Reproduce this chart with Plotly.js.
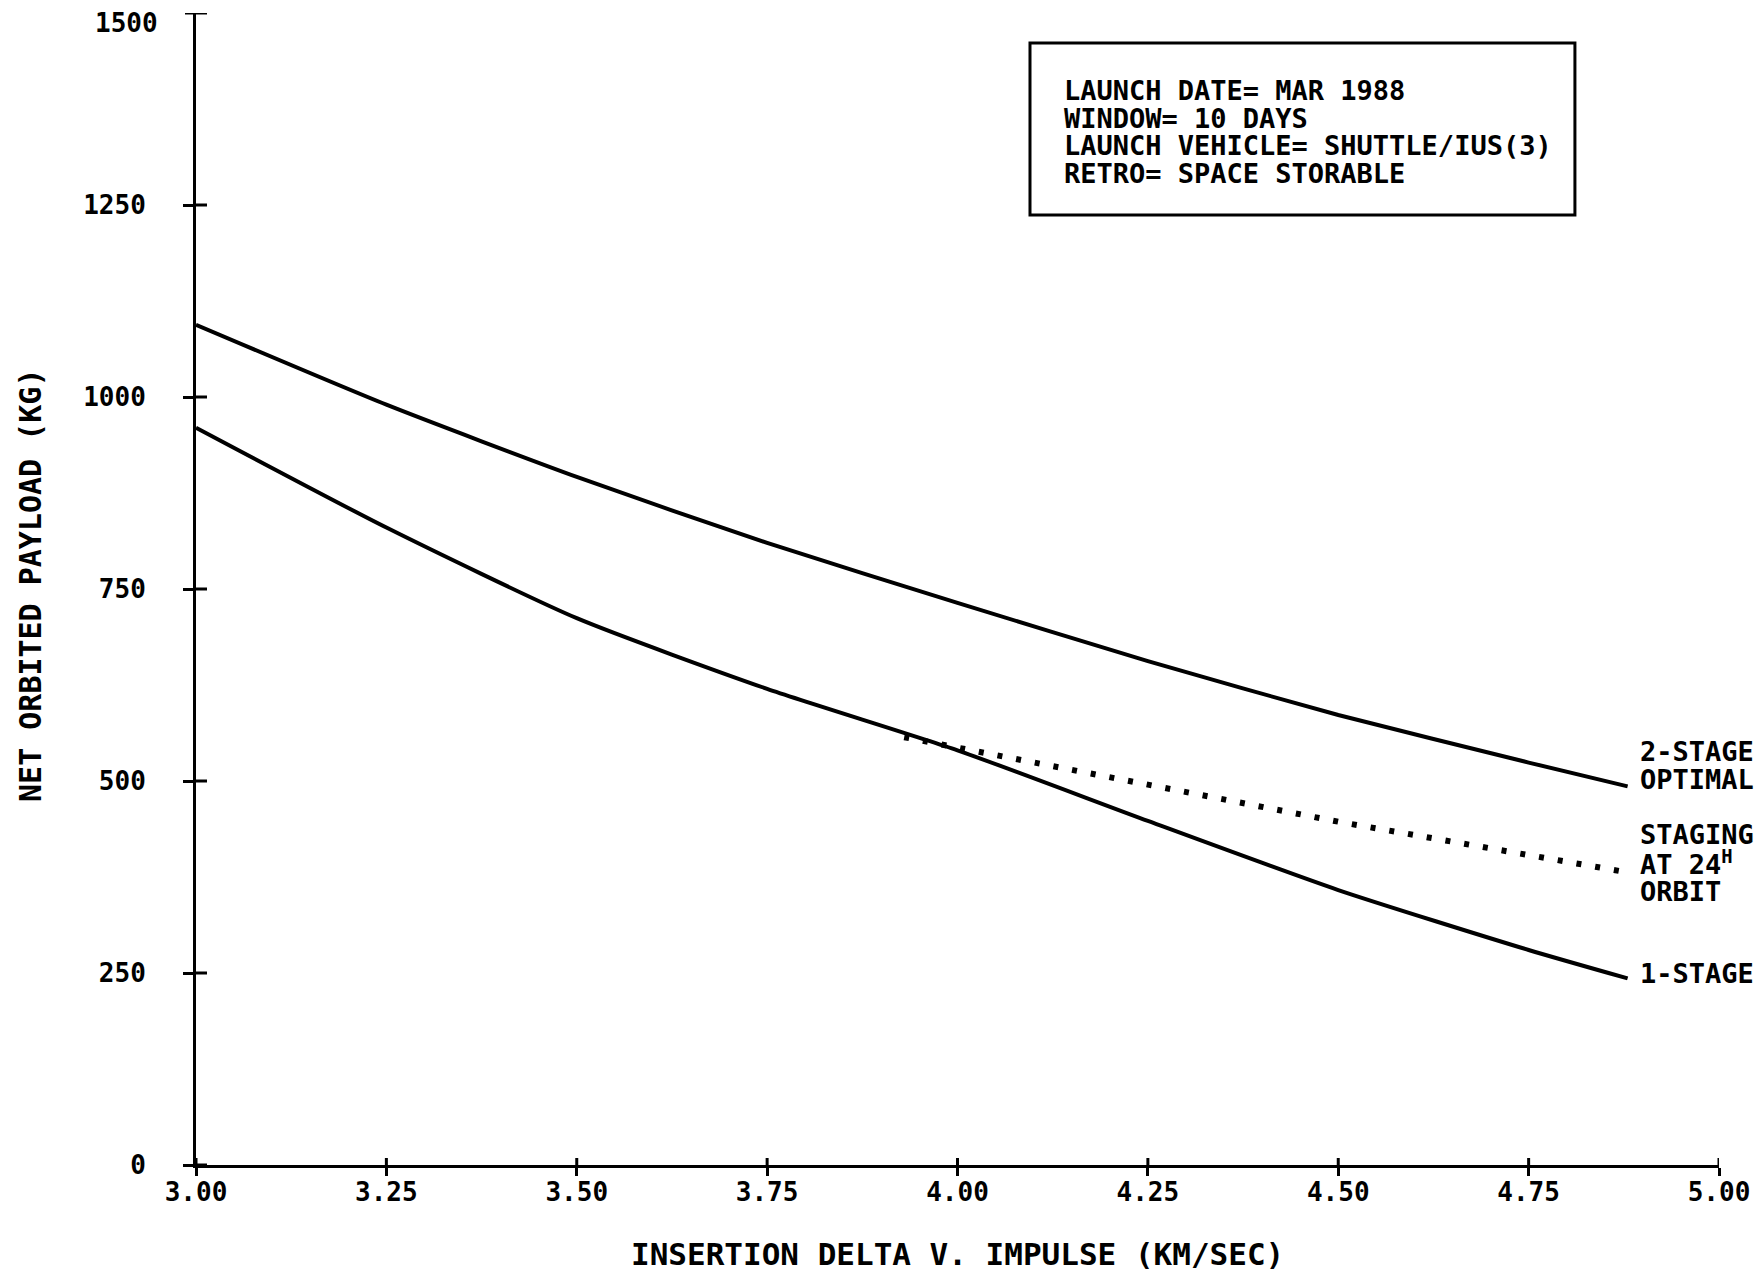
<!DOCTYPE html>
<html>
<head>
<meta charset="utf-8">
<script src="https://cdn.plot.ly/plotly-3.0.1.min.js"></script>
<style>html,body{margin:0;padding:0;background:#fff;}#chart{width:1764px;height:1275px;}</style>
</head>
<body>
<div id="chart"></div>
<script>
// ---- data ----
const xPts = [3.00, 3.25, 3.50, 3.75, 4.00, 4.25, 4.50, 4.75, 4.88];
const twoStage = [1094, 990, 896, 810, 732, 656, 586, 524, 493];
const oneStage = [960, 830, 712, 620, 540, 448, 358, 280, 243];
const xDot = [3.93, 4.25, 4.50, 4.88];
const stagingDot = [557, 496, 447, 381];

const xTicks = [3.00, 3.25, 3.50, 3.75, 4.00, 4.25, 4.50, 4.75, 5.00];
const yTicks = [0, 250, 500, 750, 1000, 1250];
const yTop = 1500;
const yTopLabel = "1500";

const boxLines = [
  "LAUNCH DATE= MAR 1988",
  "WINDOW= 10 DAYS",
  "LAUNCH VEHICLE= SHUTTLE/IUS(3)",
  "RETRO= SPACE STORABLE"
];
const labelLines = ["2-STAGE", "OPTIMAL", "STAGING", "AT 24<sup>H</sup>", "ORBIT", "1-STAGE"];
const labelYpx = [751, 779, 834, 862, 891, 973];   // label positions (pixels from top)
const xTitle = "INSERTION DELTA V. IMPULSE (KM/SEC)";
const yTitle = "NET ORBITED PAYLOAD (KG)";

const FONT = "DejaVu Sans Mono, Liberation Mono, monospace";
const fnt = (s) => ({family: FONT, size: s, color: "#000", weight: "bold"});

// plot area geometry
const L = 196, R = 45, T = 13, B = 110;
const W = 1764 - L - R, H = 1275 - T - B;
const pyToPaper = (py) => (1275 - B - py) / H;

const traces = [
  {x: xPts, y: twoStage, mode: "lines", line: {color: "#000", width: 4, shape: "spline", smoothing: 0.6}, hoverinfo: "skip"},
  {x: xPts, y: oneStage, mode: "lines", line: {color: "#000", width: 4, shape: "spline", smoothing: 0.6}, hoverinfo: "skip"},
  {x: xDot, y: stagingDot, mode: "lines", line: {color: "#000", width: 6, dash: "5px,14px"}, hoverinfo: "skip"}
];

const annotations = [];
boxLines.forEach((t, i) => {
  annotations.push({
    text: t, xref: "paper", yref: "paper", x: 0.5686, y: pyToPaper(90 + i * 28),
    xanchor: "left", yanchor: "middle", showarrow: false, font: fnt(27)
  });
});
labelLines.forEach((t, i) => {
  annotations.push({
    text: t, xref: "paper", yref: "paper", x: 0.947, y: pyToPaper(labelYpx[i]),
    xanchor: "left", yanchor: "middle", align: "left", showarrow: false, font: fnt(27)
  });
});
annotations.push({text: yTopLabel, xref: "paper", yref: "paper", x: 0, xshift: -36, y: pyToPaper(23),
  xanchor: "right", yanchor: "middle", showarrow: false, font: fnt(26)});
annotations.push({text: xTitle, xref: "paper", yref: "paper", x: 0.5, y: pyToPaper(1254),
  xanchor: "center", yanchor: "middle", showarrow: false, font: fnt(31)});
annotations.push({text: yTitle, xref: "paper", yref: "paper", x: -0.109, y: pyToPaper(585),
  xanchor: "center", yanchor: "middle", textangle: -90, showarrow: false, font: fnt(30)});

// inner halves of the crossing tick marks, placed through the axes
const shapes = [{
  type: "rect", xref: "paper", yref: "paper",
  x0: 0.5476, x1: 0.9054, y0: pyToPaper(215), y1: pyToPaper(43),
  line: {color: "#000", width: 3}, fillcolor: "rgba(0,0,0,0)"
}];
const tickLine = {color: "#000", width: 3};
xTicks.forEach(v => shapes.push({type: "line", xref: "x", yref: "paper", x0: v, x1: v, y0: 0, y1: 7 / H, line: tickLine}));
yTicks.forEach(v => shapes.push({type: "line", xref: "paper", yref: "y", x0: 0, x1: 11 / W, y0: v, y1: v, line: tickLine}));
shapes.push({type: "line", xref: "paper", yref: "y", x0: -11 / W, x1: 11 / W, y0: yTop, y1: yTop, line: tickLine});

const layout = {
  width: 1764, height: 1275,
  margin: {l: L, r: R, t: T, b: B},
  paper_bgcolor: "#fff", plot_bgcolor: "#fff",
  showlegend: false,
  xaxis: {
    range: [3, 5], tickvals: xTicks, tickformat: ".2f",
    showgrid: false, zeroline: false, showline: true, linecolor: "#000", linewidth: 3,
    ticks: "outside", ticklen: 8, tickwidth: 3, tickcolor: "#000",
    tickfont: fnt(26), ticklabelstandoff: -6
  },
  yaxis: {
    range: [0, yTop], tickvals: yTicks,
    showgrid: false, zeroline: false, showline: true, linecolor: "#000", linewidth: 3,
    ticks: "outside", ticklen: 10, tickwidth: 3, tickcolor: "#000",
    tickfont: fnt(26), ticklabelstandoff: 32
  },
  shapes: shapes,
  annotations: annotations
};

Plotly.newPlot("chart", traces, layout, {staticPlot: true, displayModeBar: false});
</script>
</body>
</html>
